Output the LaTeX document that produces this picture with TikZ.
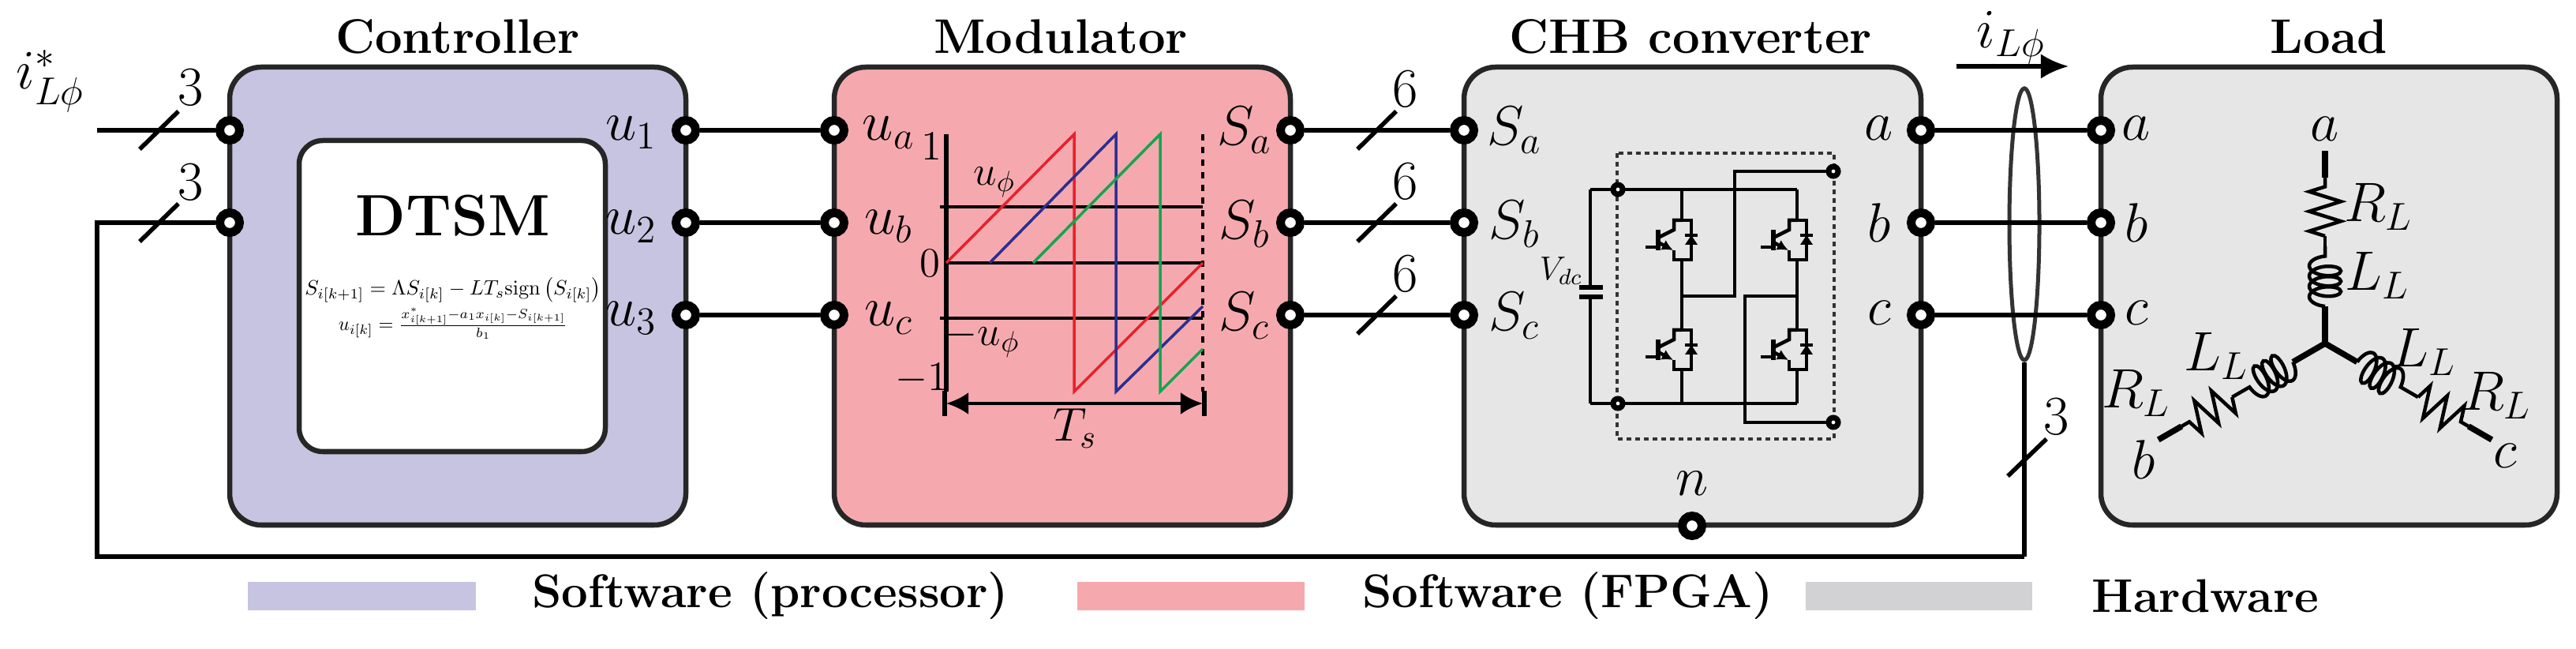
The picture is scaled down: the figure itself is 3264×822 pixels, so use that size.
\documentclass[tikz,border=0pt]{standalone}
\usepackage{fix-cm}
\usepackage{amsmath}
\usetikzlibrary{arrows.meta,shapes.geometric,decorations.pathmorphing}
\definecolor{lav}{HTML}{C7C4E1}
\definecolor{pinkb}{HTML}{F5A9AE}
\definecolor{grayb}{HTML}{E6E6E6}
\definecolor{leggray}{HTML}{D2D2D4}
\definecolor{sred}{HTML}{E8202A}
\definecolor{sblue}{HTML}{2B2F8F}
\definecolor{sgreen}{HTML}{12A650}
\tikzset{
  blk/.style={draw=black!85, line width=0.065cm, rounded corners=0.4cm},
  port/.style={circle, draw=black, fill=white, line width=0.11cm, minimum size=0.25cm, inner sep=0},
  sport/.style={circle, draw=black, fill=white, line width=0.07cm, minimum size=0.12cm, inner sep=0},
  wire/.style={line width=0.055cm},
  thin/.style={line width=0.045cm},
  title/.style={font=\fontsize{17.5}{21}\selectfont\bfseries},
  legt/.style={font=\fontsize{17}{20}\selectfont\bfseries},
  lbl/.style={font=\fontsize{20}{23}\selectfont},
  slbl/.style={font=\fontsize{15}{17}\selectfont},
  igbt/.pic={
    \draw[thin] (0,-25)--(-10,-25)--(-10,-13)--(-28,-4);
    \draw[line width=0.055cm] (-30,-13)--(-30,13);
    \draw[thin] (-46,9)--(-30,9);
    \draw[thin,-{Latex[length=4pt,width=4pt]}] (-28,4)--(-11,13);
    \draw[thin] (-10,13)--(-10,25)--(0,25);
    \draw[thin] (0,-25)--(12,-25)--(12,25)--(0,25);
    \fill (4,6)--(20,6)--(12,-6)--cycle;
    \draw[thin] (4,-6)--(20,-6);
  }
}
\begin{document}
\begin{tikzpicture}[x=0.01cm,y=-0.01cm]
\useasboundingbox (0,0) rectangle (3264,822);
% ---------- blocks
\draw[blk, fill=lav] (291,85) rectangle (869,665);
\draw[blk, fill=white, rounded corners=0.3cm] (379,178) rectangle (767,572);
\draw[blk, fill=pinkb] (1057,85) rectangle (1635,665);
\draw[blk, fill=grayb] (1855,85) rectangle (2434,665);
\draw[blk, fill=grayb] (2662,85) rectangle (3240,665);
\node[title] (tc) at (580,46) {Controller};
\node[title] (tm) at (1344,46) {Modulator};
\node[title] (th) at (2142,46) {CHB converter};
\node[title] (tl) at (2951,46) {Load};
% ---------- controller
\node[font=\fontsize{21}{24}\selectfont\bfseries] (dtsm) at (574,273) {DTSM};
\node (eq1) at (574,367) {\resizebox{3.75cm}{!}{$S_{i[k+1]}=\Lambda S_{i[k]}-LT_s\mathrm{sign}\left(S_{i[k]}\right)$}};
\node (eq2) at (574,410) {\resizebox{2.9cm}{!}{$u_{i[k]}=\frac{x^*_{i[k+1]}-a_1x_{i[k]}-S_{i[k+1]}}{b_1}$}};
\node[lbl] (istar) at (64,103) {$i^*_{L\phi}$};
\node[port] (cin1) at (291,165) {};
\node[port] (cin2) at (291,282) {};
\node[port] (cu1) at (869,165) {};
\node[port] (cu2) at (869,282) {};
\node[port] (cu3) at (869,399) {};
\node[lbl] (lu1) at (800,168) {$u_1$};
\node[lbl] (lu2) at (800,287) {$u_2$};
\node[lbl] (lu3) at (800,403) {$u_3$};
\coordinate (inA) at (123,165);
\coordinate (fb1) at (123,282);
\coordinate (fb2) at (123,705);
\coordinate (fb3) at (2565,705);
\draw[wire] (inA) -- (cin1);
\draw[wire] (cin2) -- (fb1) -- (fb2) -- (fb3);
\draw[wire] (177,189) -- (226,141);
\draw[wire] (177,306) -- (226,258);
\node[lbl] (n3a) at (242,111) {$3$};
\node[lbl] (n3b) at (242,231) {$3$};
% ---------- modulator
\node[port] (ma) at (1057,165) {};
\node[port] (mb) at (1057,282) {};
\node[port] (mc) at (1057,399) {};
\node[port] (msa) at (1635,165) {};
\node[port] (msb) at (1635,282) {};
\node[port] (msc) at (1635,399) {};
\draw[wire] (cu1) -- (ma);
\draw[wire] (cu2) -- (mb);
\draw[wire] (cu3) -- (mc);
\node[lbl] (lua) at (1126,168) {$u_a$};
\node[lbl] (lub) at (1126,287) {$u_b$};
\node[lbl] (luc) at (1126,403) {$u_c$};
\node[lbl] (lsa) at (1577,165) {$S_a$};
\node[lbl] (lsb) at (1577,284) {$S_b$};
\node[lbl] (lsc) at (1577,400) {$S_c$};
% plot
\draw[line width=0.055cm] (1199,170) -- (1199,496);
\draw[thin] (1191,262) -- (1524,262);
\draw[thin] (1199,333) -- (1524,333);
\draw[thin] (1191,403) -- (1524,403);
\draw[thin, dash pattern=on 0.08cm off 0.08cm] (1524,170) -- (1524,496);
\draw[sred, line width=0.035cm] (1199,333) -- (1361,170) -- (1361,496) -- (1524,333);
\draw[sblue, line width=0.035cm] (1254,333) -- (1414,170) -- (1414,496) -- (1524,388);
\draw[sgreen, line width=0.035cm] (1309,333) -- (1470,170) -- (1470,496) -- (1524,442);
\node[slbl] (p1) at (1180,186) {$1$};
\node[slbl] (p0) at (1178,334) {$0$};
\node[slbl] (pm1) at (1168,480) {$-1$};
\node[slbl] (pu) at (1260,231) {$u_\phi$};
\node[slbl] (pmu) at (1245,430) {$-u_\phi$};
\coordinate (tsA) at (1199,511);
\coordinate (tsB) at (1524,511);
\draw[thin, {Latex[length=8pt,width=8pt]}-{Latex[length=8pt,width=8pt]}] (tsA) -- (tsB);
\draw[line width=0.055cm] (1197,495) -- (1197,527);
\draw[line width=0.055cm] (1526,495) -- (1526,527);
\node[font=\fontsize{17}{20}\selectfont] (ts) at (1362,543) {$T_s$};
% ---------- CHB
\node[port] (ha) at (1855,165) {};
\node[port] (hb) at (1855,282) {};
\node[port] (hc) at (1855,399) {};
\node[port] (hoa) at (2434,165) {};
\node[port] (hob) at (2434,282) {};
\node[port] (hoc) at (2434,399) {};
\node[port] (hn) at (2144,666) {};
\node[lbl] (lhn) at (2144,612) {$n$};
\draw[wire] (msa) -- (ha);
\draw[wire] (msb) -- (hb);
\draw[wire] (msc) -- (hc);
\foreach \yy in {165,282,399}{
  \draw[wire] (1720,\yy+24) -- (1769,\yy-24);
  \node[lbl] at (1781,\yy-52) {$6$};
}
\node[lbl] (lha) at (1919,165) {$S_a$};
\node[lbl] (lhb) at (1919,284) {$S_b$};
\node[lbl] (lhc) at (1919,400) {$S_c$};
\node[lbl] (lhoa) at (2381,162) {$a$};
\node[lbl] (lhob) at (2381,282) {$b$};
\node[lbl] (lhoc) at (2381,396) {$c$};
% H-bridge
\draw[thin, black!80, dash pattern=on 0.06cm off 0.05cm] (2049,194) rectangle (2324,556);
\draw[thin] (2015,240) -- (2277,240);
\draw[thin] (2015,511) -- (2277,511);
\draw[thin] (2015,240) -- (2015,364);
\draw[thin] (2015,376) -- (2015,511);
\draw[line width=0.055cm] (2001,364) -- (2031,364);
\draw[line width=0.055cm] (2001,376) -- (2031,376);
\node[font=\fontsize{12}{14}\selectfont] (vdc) at (1978,343) {$V_{dc}$};
\foreach \L in {2131,2277}{
  \draw[thin] (\L,240) -- (\L,279);
  \draw[thin] (\L,329) -- (\L,418);
  \draw[thin] (\L,468) -- (\L,511);
  \pic at (\L,304) {igbt};
  \pic at (\L,443) {igbt};
}
\node[sport] (hp1) at (2050,240) {};
\node[sport] (hp2) at (2050,511) {};
\node[sport] (hp3) at (2323,217) {};
\node[sport] (hp4) at (2323,535) {};
\draw[thin] (2131,375) -- (2198,375) -- (2198,217) -- (hp3);
\draw[thin] (2277,375) -- (2211,375) -- (2211,535) -- (hp4);
% bundle
\node[ellipse, draw=black!80, line width=0.05cm, minimum width=0.38cm, minimum height=3.44cm, inner sep=0] (bundle) at (2565,284) {};
\draw[wire] (fb3) -- (bundle.south);
\draw[wire] (2544,603) -- (2593,556);
\node[lbl] (n3c) at (2606,528) {$3$};
\coordinate (iA) at (2479,84);
\coordinate (iB) at (2621,84);
\draw[wire, -{Latex[length=10pt,width=9pt]}] (iA) -- (iB);
\node[lbl] (li) at (2548,48) {$i_{L\phi}$};
% ---------- load
\node[port] (la) at (2662,165) {};
\node[port] (lb) at (2662,282) {};
\node[port] (lc) at (2662,399) {};
\draw[wire] (hoa) -- (la);
\draw[wire] (hob) -- (lb);
\draw[wire] (hoc) -- (lc);
\node[lbl] (lla) at (2707,162) {$a$};
\node[lbl] (llb) at (2707,282) {$b$};
\node[lbl] (llc) at (2707,396) {$c$};
\foreach \r in {0,120,-120}{
\begin{scope}[shift={(2946,435)}, rotate=\r]
  \draw[line width=0.075cm] (0,0) -- (0,-47);
  \draw[thin, decorate, decoration={coil, amplitude=0.2cm, segment length=0.13cm, aspect=0.45}] (0,-47) -- (0,-123);
  \draw[thin] (0,-123) -- (0,-136);
  \draw[thin, decorate, decoration={zigzag, amplitude=0.2cm, segment length=0.25cm}] (0,-136) -- (0,-210);
  \draw[line width=0.075cm] (0,-210) -- (0,-244);
\end{scope}}
\node[lbl] (sa) at (2946,163) {$a$};
\node[lbl] (sb) at (2716,582) {$b$};
\node[lbl] (sc) at (3174,577) {$c$};
\node[lbl] (r1) at (3014,262) {$R_L$};
\node[lbl] (l1) at (3012,349) {$L_L$};
\node[lbl] (r2) at (2707,498) {$R_L$};
\node[lbl] (l2) at (2808,451) {$L_L$};
\node[lbl] (l3) at (3071,446) {$L_L$};
\node[lbl] (r3) at (3164,501) {$R_L$};
% ---------- legend
\fill[lav] (314,737) rectangle (603,773);
\node[legt, anchor=west] (lg1) at (662,755) {Software (processor)};
\fill[pinkb] (1365,737) rectangle (1653,773);
\node[legt, anchor=west] (lg2) at (1714,755) {Software (FPGA)};
\fill[leggray] (2288,737) rectangle (2575,773);
\node[legt, anchor=west] (lg3) at (2638,755) {Hardware};
\end{tikzpicture}
\end{document}
